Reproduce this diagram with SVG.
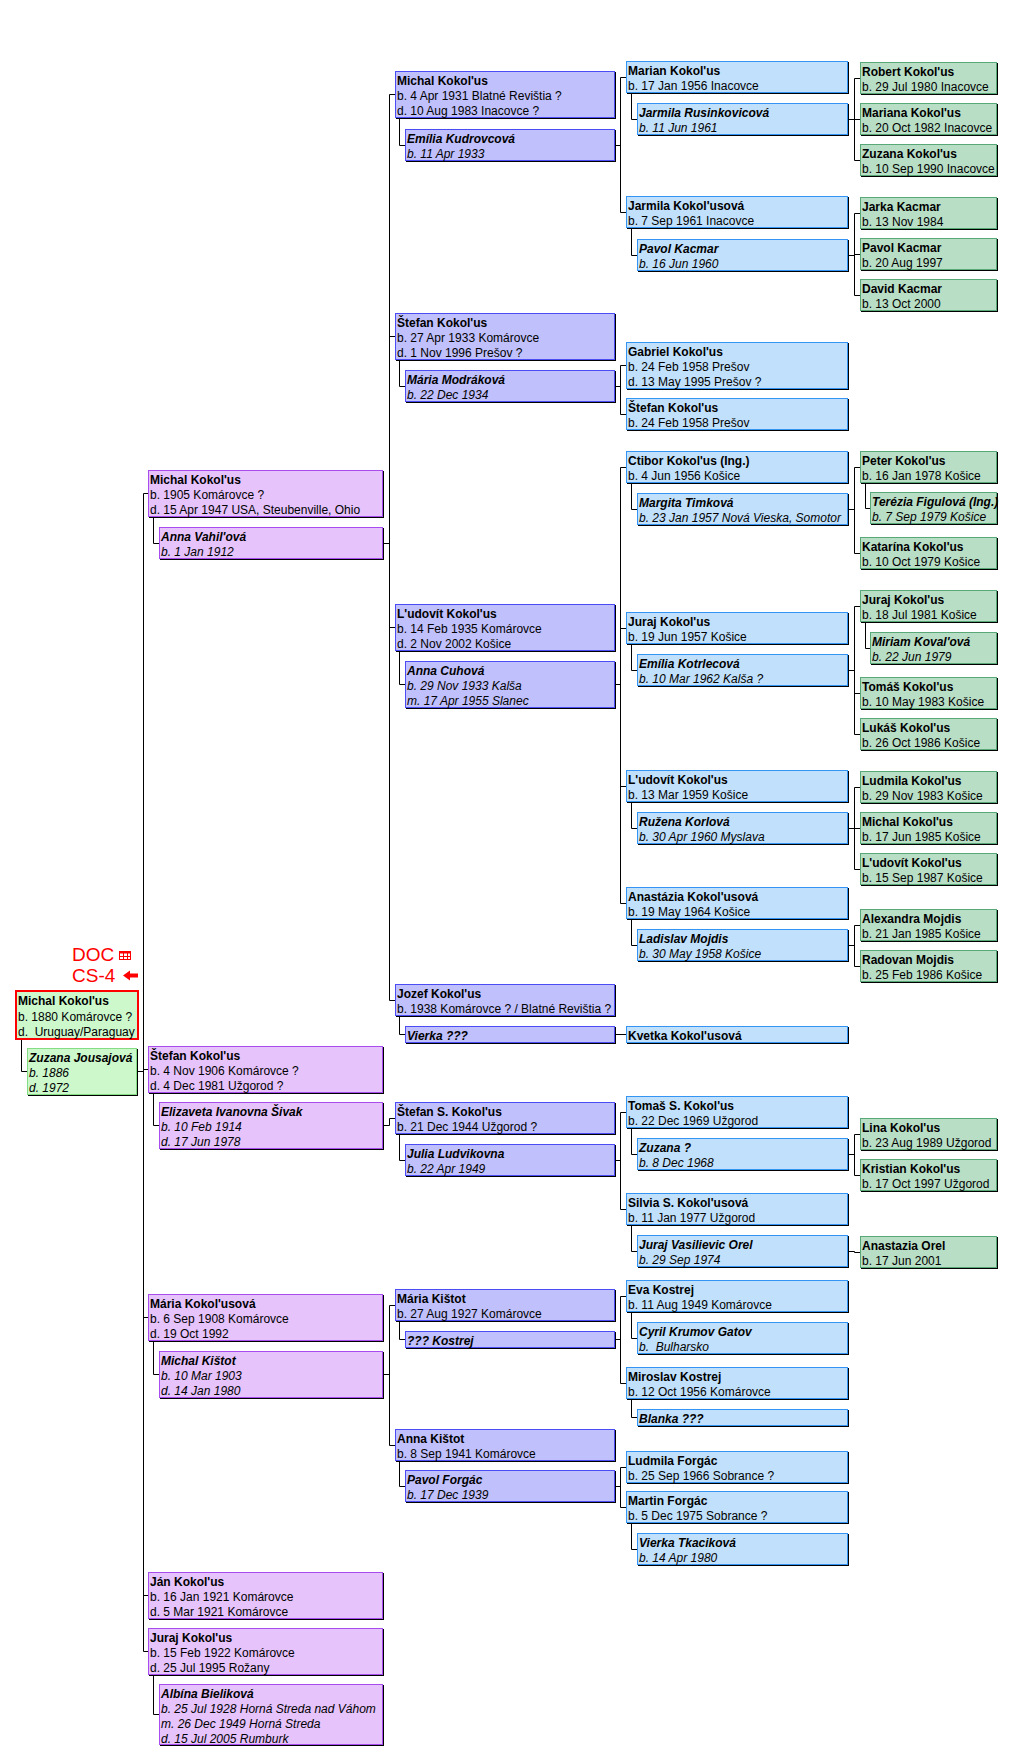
<svg xmlns="http://www.w3.org/2000/svg" width="1014" height="1748" viewBox="0 0 1014 1748">
<style>
.sh{fill:#000}
.k1{fill:#ccf8cc;stroke:#f00;stroke-width:2}
.k1s{fill:#ccf8cc;stroke:#84dc84}
.k2{fill:#e6c3fb;stroke:#a84cf0}
.k3{fill:#c0c0fc;stroke:#4c4cf4}
.k4{fill:#c0e0fc;stroke:#3494f4}
.k5{fill:#b8dec6;stroke:#58a878}
text{font-family:"Liberation Sans",Arial,sans-serif;font-size:12px;fill:#000}
.nm{font-weight:bold}
.sp{font-style:italic}
.cn{fill:none;stroke:#000;stroke-width:1}
.red{fill:#f00;font-size:19px}
</style>
<g id="connectors" class="cn">
<path d="M21.5 1040V1071.5H27M138 1071.5H143.5M143.5 493.5V1651.5M143.5 493.5H148M143.5 1069.5H148M143.5 1317.5H148M143.5 1595.5H148M143.5 1651.5H148"/>
<path d="M153.5 518V543.5H159M153.5 1094V1125.5H159M153.5 1342V1374.5H159M153.5 1676V1714.5H159"/>
<path d="M384 543.5H389.5M389.5 94.5V1000.5M389.5 94.5H395M389.5 336.5H395M389.5 627.5H395M389.5 1000.5H395M384 1125.5H389.5V1118.5H395M384 1374.5H389.5M389.5 1305.5V1445.5M389.5 1305.5H395M389.5 1445.5H395"/>
<path d="M399.5 119V145.5H405M399.5 361V386.5H405M399.5 652V684.5H405M399.5 1017V1034.5H405M399.5 1135V1160.5H405M399.5 1322V1339.5H405M399.5 1462V1486.5H405"/>
<path d="M616 145.5H620.5M620.5 77.5V212.5M620.5 77.5H626M620.5 212.5H626M616 386.5H620.5M620.5 365.5V414.5M620.5 365.5H626M620.5 414.5H626M616 684.5H620.5M620.5 467.5V903.5M620.5 467.5H626M620.5 628.5H626M620.5 786.5H626M620.5 903.5H626M616 1034.5H626M616 1160.5H620.5M620.5 1112.5V1209.5M620.5 1112.5H626M620.5 1209.5H626M616 1339.5H620.5M620.5 1296.5V1383.5M620.5 1296.5H626M620.5 1383.5H626M616 1486.5H620.5M620.5 1467.5V1507.5M620.5 1467.5H626M620.5 1507.5H626"/>
<path d="M631.5 94V119.5H637M631.5 229V255.5H637M631.5 484V509.5H637M631.5 645V670.5H637M631.5 803V828.5H637M631.5 920V945.5H637M631.5 1129V1154.5H637M631.5 1226V1251.5H637M631.5 1313V1338.5H637M631.5 1400V1417.5H637M631.5 1524V1549.5H637"/>
<path d="M849 119.5H854.5M854.5 78.5V160.5M854.5 78.5H860M854.5 119.5H860M854.5 160.5H860M849 255.5H854.5M854.5 213.5V295.5M854.5 213.5H860M854.5 254.5H860M854.5 295.5H860M849 509.5H854.5M854.5 467.5V553.5M854.5 467.5H860M854.5 553.5H860M849 670.5H854.5M854.5 606.5V734.5M854.5 606.5H860M854.5 693.5H860M854.5 734.5H860M849 828.5H854.5M854.5 787.5V869.5M854.5 787.5H860M854.5 828.5H860M854.5 869.5H860M849 945.5H854.5M854.5 925.5V966.5M854.5 925.5H860M854.5 966.5H860M849 1154.5H854.5M854.5 1134.5V1175.5M854.5 1134.5H860M854.5 1175.5H860M849 1251.5H854.5V1252.5H860"/>
<path d="M865.5 484V508.5H870M865.5 623V648.5H870"/>
</g>
<g id="badge">
<text class="red" x="72" y="961">DOC</text>
<text class="red" x="72" y="982">CS-4</text>
<rect x="119.5" y="951.5" width="11" height="8" fill="none" stroke="#f00"/>
<rect x="119.5" y="951.5" width="11" height="2" fill="#f00"/>
<path d="M120 956.5H130M123.5 952V959M127.5 952V959" stroke="#f00" fill="none"/>
<polygon points="123,975.5 130,970.5 130,973.5 138,973.5 138,977.5 130,977.5 130,980.5" fill="#f00"/>
</g>
<g id="n-root"><rect class="k1" x="16" y="991" width="122" height="48"/><text x="18" xml:space="preserve"><tspan class="nm" x="18" y="1005">Michal Kokol'us</tspan><tspan x="18" y="1021">b. 1880 Komárovce ?</tspan><tspan x="18" y="1036">d.  Uruguay/Paraguay</tspan></text></g>
<g id="n-zuzana-j"><rect class="sh" x="28" y="1049" width="110" height="47"/><rect class="k1s" x="27.5" y="1048.5" width="109" height="46"/><text class="sp"><tspan class="nm" x="29" y="1061.5">Zuzana Jousajová</tspan><tspan x="29" y="1077">b. 1886</tspan><tspan x="29" y="1092">d. 1972</tspan></text></g>

<g id="n-michal-2"><rect class="sh" x="149" y="471" width="235" height="47"/><rect class="k2" x="148.5" y="470.5" width="234" height="46"/><text><tspan class="nm" x="150" y="483.5">Michal Kokol'us</tspan><tspan x="150" y="499">b. 1905 Komárovce ?</tspan><tspan x="150" y="514">d. 15 Apr 1947 USA, Steubenville, Ohio</tspan></text></g>
<g id="n-anna-v"><rect class="sh" x="160" y="528" width="224" height="32"/><rect class="k2" x="159.5" y="527.5" width="223" height="31"/><text class="sp"><tspan class="nm" x="161" y="540.5">Anna Vahil'ová</tspan><tspan x="161" y="556">b. 1 Jan 1912</tspan></text></g>
<g id="n-stefan-2"><rect class="sh" x="149" y="1047" width="235" height="47"/><rect class="k2" x="148.5" y="1046.5" width="234" height="46"/><text><tspan class="nm" x="150" y="1059.5">Štefan Kokol'us</tspan><tspan x="150" y="1075">b. 4 Nov 1906 Komárovce ?</tspan><tspan x="150" y="1090">d. 4 Dec 1981 Užgorod ?</tspan></text></g>
<g id="n-elizaveta"><rect class="sh" x="160" y="1103" width="224" height="47"/><rect class="k2" x="159.5" y="1102.5" width="223" height="46"/><text class="sp"><tspan class="nm" x="161" y="1115.5">Elizaveta Ivanovna Šivak</tspan><tspan x="161" y="1131">b. 10 Feb 1914</tspan><tspan x="161" y="1146">d. 17 Jun 1978</tspan></text></g>
<g id="n-maria-k"><rect class="sh" x="149" y="1295" width="235" height="47"/><rect class="k2" x="148.5" y="1294.5" width="234" height="46"/><text><tspan class="nm" x="150" y="1307.5">Mária Kokol'usová</tspan><tspan x="150" y="1323">b. 6 Sep 1908 Komárovce</tspan><tspan x="150" y="1338">d. 19 Oct 1992</tspan></text></g>
<g id="n-michal-kistot"><rect class="sh" x="160" y="1352" width="224" height="47"/><rect class="k2" x="159.5" y="1351.5" width="223" height="46"/><text class="sp"><tspan class="nm" x="161" y="1364.5">Michal Kištot</tspan><tspan x="161" y="1380">b. 10 Mar 1903</tspan><tspan x="161" y="1395">d. 14 Jan 1980</tspan></text></g>
<g id="n-jan"><rect class="sh" x="149" y="1573" width="235" height="47"/><rect class="k2" x="148.5" y="1572.5" width="234" height="46"/><text><tspan class="nm" x="150" y="1585.5">Ján Kokol'us</tspan><tspan x="150" y="1601">b. 16 Jan 1921 Komárovce</tspan><tspan x="150" y="1616">d. 5 Mar 1921 Komárovce</tspan></text></g>
<g id="n-juraj-2"><rect class="sh" x="149" y="1629" width="235" height="47"/><rect class="k2" x="148.5" y="1628.5" width="234" height="46"/><text><tspan class="nm" x="150" y="1641.5">Juraj Kokol'us</tspan><tspan x="150" y="1657">b. 15 Feb 1922 Komárovce</tspan><tspan x="150" y="1672">d. 25 Jul 1995 Rožany</tspan></text></g>
<g id="n-albina"><rect class="sh" x="160" y="1685" width="224" height="61"/><rect class="k2" x="159.5" y="1684.5" width="223" height="60"/><text class="sp"><tspan class="nm" x="161" y="1697.5">Albína Bieliková</tspan><tspan x="161" y="1713">b. 25 Jul 1928 Horná Streda nad Váhom</tspan><tspan x="161" y="1728">m. 26 Dec 1949 Horná Streda</tspan><tspan x="161" y="1743">d. 15 Jul 2005 Rumburk</tspan></text></g>

<g id="n-michal-3"><rect class="sh" x="396" y="72" width="220" height="47"/><rect class="k3" x="395.5" y="71.5" width="219" height="46"/><text><tspan class="nm" x="397" y="84.5">Michal Kokol'us</tspan><tspan x="397" y="100">b. 4 Apr 1931 Blatné Revištia ?</tspan><tspan x="397" y="115">d. 10 Aug 1983 Inacovce ?</tspan></text></g>
<g id="n-emilia-ku"><rect class="sh" x="406" y="130" width="210" height="32"/><rect class="k3" x="405.5" y="129.5" width="209" height="31"/><text class="sp"><tspan class="nm" x="407" y="142.5">Emília Kudrovcová</tspan><tspan x="407" y="158">b. 11 Apr 1933</tspan></text></g>
<g id="n-stefan-3"><rect class="sh" x="396" y="314" width="220" height="47"/><rect class="k3" x="395.5" y="313.5" width="219" height="46"/><text><tspan class="nm" x="397" y="326.5">Štefan Kokol'us</tspan><tspan x="397" y="342">b. 27 Apr 1933 Komárovce</tspan><tspan x="397" y="357">d. 1 Nov 1996 Prešov ?</tspan></text></g>
<g id="n-maria-m"><rect class="sh" x="406" y="371" width="210" height="32"/><rect class="k3" x="405.5" y="370.5" width="209" height="31"/><text class="sp"><tspan class="nm" x="407" y="383.5">Mária Modráková</tspan><tspan x="407" y="399">b. 22 Dec 1934</tspan></text></g>
<g id="n-ludovit-3"><rect class="sh" x="396" y="605" width="220" height="47"/><rect class="k3" x="395.5" y="604.5" width="219" height="46"/><text><tspan class="nm" x="397" y="617.5">L'udovít Kokol'us</tspan><tspan x="397" y="633">b. 14 Feb 1935 Komárovce</tspan><tspan x="397" y="648">d. 2 Nov 2002 Košice</tspan></text></g>
<g id="n-anna-c"><rect class="sh" x="406" y="662" width="210" height="47"/><rect class="k3" x="405.5" y="661.5" width="209" height="46"/><text class="sp"><tspan class="nm" x="407" y="674.5">Anna Cuhová</tspan><tspan x="407" y="690">b. 29 Nov 1933 Kalša</tspan><tspan x="407" y="705">m. 17 Apr 1955 Slanec</tspan></text></g>
<g id="n-jozef"><rect class="sh" x="396" y="985" width="220" height="32"/><rect class="k3" x="395.5" y="984.5" width="219" height="31"/><text><tspan class="nm" x="397" y="997.5">Jozef Kokol'us</tspan><tspan x="397" y="1013">b. 1938 Komárovce ? / Blatné Revištia ?</tspan></text></g>
<g id="n-vierka"><rect class="sh" x="406" y="1027" width="210" height="17"/><rect class="k3" x="405.5" y="1026.5" width="209" height="16"/><text class="sp"><tspan class="nm" x="407" y="1039.5">Vierka ???</tspan></text></g>
<g id="n-stefan-s"><rect class="sh" x="396" y="1103" width="220" height="32"/><rect class="k3" x="395.5" y="1102.5" width="219" height="31"/><text><tspan class="nm" x="397" y="1115.5">Štefan S. Kokol'us</tspan><tspan x="397" y="1131">b. 21 Dec 1944 Užgorod ?</tspan></text></g>
<g id="n-julia"><rect class="sh" x="406" y="1145" width="210" height="32"/><rect class="k3" x="405.5" y="1144.5" width="209" height="31"/><text class="sp"><tspan class="nm" x="407" y="1157.5">Julia Ludvikovna</tspan><tspan x="407" y="1173">b. 22 Apr 1949</tspan></text></g>
<g id="n-maria-kistot"><rect class="sh" x="396" y="1290" width="220" height="32"/><rect class="k3" x="395.5" y="1289.5" width="219" height="31"/><text><tspan class="nm" x="397" y="1302.5">Mária Kištot</tspan><tspan x="397" y="1318">b. 27 Aug 1927 Komárovce</tspan></text></g>
<g id="n-kostrej"><rect class="sh" x="406" y="1332" width="210" height="17"/><rect class="k3" x="405.5" y="1331.5" width="209" height="16"/><text class="sp"><tspan class="nm" x="407" y="1344.5">??? Kostrej</tspan></text></g>
<g id="n-anna-kistot"><rect class="sh" x="396" y="1430" width="220" height="32"/><rect class="k3" x="395.5" y="1429.5" width="219" height="31"/><text><tspan class="nm" x="397" y="1442.5">Anna Kištot</tspan><tspan x="397" y="1458">b. 8 Sep 1941 Komárovce</tspan></text></g>
<g id="n-pavol-f"><rect class="sh" x="406" y="1471" width="210" height="32"/><rect class="k3" x="405.5" y="1470.5" width="209" height="31"/><text class="sp"><tspan class="nm" x="407" y="1483.5">Pavol Forgác</tspan><tspan x="407" y="1499">b. 17 Dec 1939</tspan></text></g>

<g id="n-marian"><rect class="sh" x="627" y="62" width="222" height="32"/><rect class="k4" x="626.5" y="61.5" width="221" height="31"/><text><tspan class="nm" x="628" y="74.5">Marian Kokol'us</tspan><tspan x="628" y="90">b. 17 Jan 1956 Inacovce</tspan></text></g>
<g id="n-jarmila-r"><rect class="sh" x="638" y="104" width="211" height="32"/><rect class="k4" x="637.5" y="103.5" width="210" height="31"/><text class="sp"><tspan class="nm" x="639" y="116.5">Jarmila Rusinkovicová</tspan><tspan x="639" y="132">b. 11 Jun 1961</tspan></text></g>
<g id="n-jarmila-k"><rect class="sh" x="627" y="197" width="222" height="32"/><rect class="k4" x="626.5" y="196.5" width="221" height="31"/><text><tspan class="nm" x="628" y="209.5">Jarmila Kokol'usová</tspan><tspan x="628" y="225">b. 7 Sep 1961 Inacovce</tspan></text></g>
<g id="n-pavol-k4"><rect class="sh" x="638" y="240" width="211" height="32"/><rect class="k4" x="637.5" y="239.5" width="210" height="31"/><text class="sp"><tspan class="nm" x="639" y="252.5">Pavol Kacmar</tspan><tspan x="639" y="268">b. 16 Jun 1960</tspan></text></g>
<g id="n-gabriel"><rect class="sh" x="627" y="343" width="222" height="47"/><rect class="k4" x="626.5" y="342.5" width="221" height="46"/><text><tspan class="nm" x="628" y="355.5">Gabriel Kokol'us</tspan><tspan x="628" y="371">b. 24 Feb 1958 Prešov</tspan><tspan x="628" y="386">d. 13 May 1995 Prešov ?</tspan></text></g>
<g id="n-stefan-4"><rect class="sh" x="627" y="399" width="222" height="32"/><rect class="k4" x="626.5" y="398.5" width="221" height="31"/><text><tspan class="nm" x="628" y="411.5">Štefan Kokol'us</tspan><tspan x="628" y="427">b. 24 Feb 1958 Prešov</tspan></text></g>
<g id="n-ctibor"><rect class="sh" x="627" y="452" width="222" height="32"/><rect class="k4" x="626.5" y="451.5" width="221" height="31"/><text><tspan class="nm" x="628" y="464.5">Ctibor Kokol'us (Ing.)</tspan><tspan x="628" y="480">b. 4 Jun 1956 Košice</tspan></text></g>
<g id="n-margita"><rect class="sh" x="638" y="494" width="211" height="32"/><rect class="k4" x="637.5" y="493.5" width="210" height="31"/><text class="sp"><tspan class="nm" x="639" y="506.5">Margita Timková</tspan><tspan x="639" y="522">b. 23 Jan 1957 Nová Vieska, Somotor</tspan></text></g>
<g id="n-juraj-4"><rect class="sh" x="627" y="613" width="222" height="32"/><rect class="k4" x="626.5" y="612.5" width="221" height="31"/><text><tspan class="nm" x="628" y="625.5">Juraj Kokol'us</tspan><tspan x="628" y="641">b. 19 Jun 1957 Košice</tspan></text></g>
<g id="n-emilia-ko"><rect class="sh" x="638" y="655" width="211" height="32"/><rect class="k4" x="637.5" y="654.5" width="210" height="31"/><text class="sp"><tspan class="nm" x="639" y="667.5">Emília Kotrlecová</tspan><tspan x="639" y="683">b. 10 Mar 1962 Kalša ?</tspan></text></g>
<g id="n-ludovit-4"><rect class="sh" x="627" y="771" width="222" height="32"/><rect class="k4" x="626.5" y="770.5" width="221" height="31"/><text><tspan class="nm" x="628" y="783.5">L'udovít Kokol'us</tspan><tspan x="628" y="799">b. 13 Mar 1959 Košice</tspan></text></g>
<g id="n-ruzena"><rect class="sh" x="638" y="813" width="211" height="32"/><rect class="k4" x="637.5" y="812.5" width="210" height="31"/><text class="sp"><tspan class="nm" x="639" y="825.5">Ružena Korlová</tspan><tspan x="639" y="841">b. 30 Apr 1960 Myslava</tspan></text></g>
<g id="n-anastazia"><rect class="sh" x="627" y="888" width="222" height="32"/><rect class="k4" x="626.5" y="887.5" width="221" height="31"/><text><tspan class="nm" x="628" y="900.5">Anastázia Kokol'usová</tspan><tspan x="628" y="916">b. 19 May 1964 Košice</tspan></text></g>
<g id="n-ladislav"><rect class="sh" x="638" y="930" width="211" height="32"/><rect class="k4" x="637.5" y="929.5" width="210" height="31"/><text class="sp"><tspan class="nm" x="639" y="942.5">Ladislav Mojdis</tspan><tspan x="639" y="958">b. 30 May 1958 Košice</tspan></text></g>
<g id="n-kvetka"><rect class="sh" x="627" y="1027" width="222" height="17"/><rect class="k4" x="626.5" y="1026.5" width="221" height="16"/><text><tspan class="nm" x="628" y="1039.5">Kvetka Kokol'usová</tspan></text></g>
<g id="n-tomas-s"><rect class="sh" x="627" y="1097" width="222" height="32"/><rect class="k4" x="626.5" y="1096.5" width="221" height="31"/><text><tspan class="nm" x="628" y="1109.5">Tomaš S. Kokol'us</tspan><tspan x="628" y="1125">b. 22 Dec 1969 Užgorod</tspan></text></g>
<g id="n-zuzana-q"><rect class="sh" x="638" y="1139" width="211" height="32"/><rect class="k4" x="637.5" y="1138.5" width="210" height="31"/><text class="sp"><tspan class="nm" x="639" y="1151.5">Zuzana ?</tspan><tspan x="639" y="1167">b. 8 Dec 1968</tspan></text></g>
<g id="n-silvia"><rect class="sh" x="627" y="1194" width="222" height="32"/><rect class="k4" x="626.5" y="1193.5" width="221" height="31"/><text><tspan class="nm" x="628" y="1206.5">Silvia S. Kokol'usová</tspan><tspan x="628" y="1222">b. 11 Jan 1977 Užgorod</tspan></text></g>
<g id="n-juraj-vo"><rect class="sh" x="638" y="1236" width="211" height="32"/><rect class="k4" x="637.5" y="1235.5" width="210" height="31"/><text class="sp"><tspan class="nm" x="639" y="1248.5">Juraj Vasilievic Orel</tspan><tspan x="639" y="1264">b. 29 Sep 1974</tspan></text></g>
<g id="n-eva"><rect class="sh" x="627" y="1281" width="222" height="32"/><rect class="k4" x="626.5" y="1280.5" width="221" height="31"/><text><tspan class="nm" x="628" y="1293.5">Eva Kostrej</tspan><tspan x="628" y="1309">b. 11 Aug 1949 Komárovce</tspan></text></g>
<g id="n-cyril"><rect class="sh" x="638" y="1323" width="211" height="32"/><rect class="k4" x="637.5" y="1322.5" width="210" height="31"/><text class="sp" xml:space="preserve"><tspan class="nm" x="639" y="1335.5">Cyril Krumov Gatov</tspan><tspan x="639" y="1351">b.  Bulharsko</tspan></text></g>
<g id="n-miroslav"><rect class="sh" x="627" y="1368" width="222" height="32"/><rect class="k4" x="626.5" y="1367.5" width="221" height="31"/><text><tspan class="nm" x="628" y="1380.5">Miroslav Kostrej</tspan><tspan x="628" y="1396">b. 12 Oct 1956 Komárovce</tspan></text></g>
<g id="n-blanka"><rect class="sh" x="638" y="1410" width="211" height="17"/><rect class="k4" x="637.5" y="1409.5" width="210" height="16"/><text class="sp"><tspan class="nm" x="639" y="1422.5">Blanka ???</tspan></text></g>
<g id="n-ludmila-f"><rect class="sh" x="627" y="1452" width="222" height="32"/><rect class="k4" x="626.5" y="1451.5" width="221" height="31"/><text><tspan class="nm" x="628" y="1464.5">Ludmila Forgác</tspan><tspan x="628" y="1480">b. 25 Sep 1966 Sobrance ?</tspan></text></g>
<g id="n-martin"><rect class="sh" x="627" y="1492" width="222" height="32"/><rect class="k4" x="626.5" y="1491.5" width="221" height="31"/><text><tspan class="nm" x="628" y="1504.5">Martin Forgác</tspan><tspan x="628" y="1520">b. 5 Dec 1975 Sobrance ?</tspan></text></g>
<g id="n-vierka-t"><rect class="sh" x="638" y="1534" width="211" height="32"/><rect class="k4" x="637.5" y="1533.5" width="210" height="31"/><text class="sp"><tspan class="nm" x="639" y="1546.5">Vierka Tkaciková</tspan><tspan x="639" y="1562">b. 14 Apr 1980</tspan></text></g>

<g id="n-robert"><rect class="sh" x="861" y="63" width="137" height="32"/><rect class="k5" x="860.5" y="62.5" width="136" height="31"/><text><tspan class="nm" x="862" y="75.5">Robert Kokol'us</tspan><tspan x="862" y="91">b. 29 Jul 1980 Inacovce</tspan></text></g>
<g id="n-mariana"><rect class="sh" x="861" y="104" width="137" height="32"/><rect class="k5" x="860.5" y="103.5" width="136" height="31"/><text><tspan class="nm" x="862" y="116.5">Mariana Kokol'us</tspan><tspan x="862" y="132">b. 20 Oct 1982 Inacovce</tspan></text></g>
<g id="n-zuzana-5"><rect class="sh" x="861" y="145" width="137" height="32"/><rect class="k5" x="860.5" y="144.5" width="136" height="31"/><text><tspan class="nm" x="862" y="157.5">Zuzana Kokol'us</tspan><tspan x="862" y="173">b. 10 Sep 1990 Inacovce</tspan></text></g>
<g id="n-jarka"><rect class="sh" x="861" y="198" width="137" height="32"/><rect class="k5" x="860.5" y="197.5" width="136" height="31"/><text><tspan class="nm" x="862" y="210.5">Jarka Kacmar</tspan><tspan x="862" y="226">b. 13 Nov 1984</tspan></text></g>
<g id="n-pavol-5"><rect class="sh" x="861" y="239" width="137" height="32"/><rect class="k5" x="860.5" y="238.5" width="136" height="31"/><text><tspan class="nm" x="862" y="251.5">Pavol Kacmar</tspan><tspan x="862" y="267">b. 20 Aug 1997</tspan></text></g>
<g id="n-david"><rect class="sh" x="861" y="280" width="137" height="32"/><rect class="k5" x="860.5" y="279.5" width="136" height="31"/><text><tspan class="nm" x="862" y="292.5">David Kacmar</tspan><tspan x="862" y="308">b. 13 Oct 2000</tspan></text></g>
<g id="n-peter"><rect class="sh" x="861" y="452" width="137" height="32"/><rect class="k5" x="860.5" y="451.5" width="136" height="31"/><text><tspan class="nm" x="862" y="464.5">Peter Kokol'us</tspan><tspan x="862" y="480">b. 16 Jan 1978 Košice</tspan></text></g>
<g id="n-terezia"><rect class="sh" x="871" y="493" width="127" height="32"/><rect class="k5" x="870.5" y="492.5" width="126" height="31"/><text class="sp"><tspan class="nm" x="872" y="505.5">Terézia Figulová (Ing.)</tspan><tspan x="872" y="521">b. 7 Sep 1979 Košice</tspan></text></g>
<g id="n-katarina"><rect class="sh" x="861" y="538" width="137" height="32"/><rect class="k5" x="860.5" y="537.5" width="136" height="31"/><text><tspan class="nm" x="862" y="550.5">Katarína Kokol'us</tspan><tspan x="862" y="566">b. 10 Oct 1979 Košice</tspan></text></g>
<g id="n-juraj-5"><rect class="sh" x="861" y="591" width="137" height="32"/><rect class="k5" x="860.5" y="590.5" width="136" height="31"/><text><tspan class="nm" x="862" y="603.5">Juraj Kokol'us</tspan><tspan x="862" y="619">b. 18 Jul 1981 Košice</tspan></text></g>
<g id="n-miriam"><rect class="sh" x="871" y="633" width="127" height="32"/><rect class="k5" x="870.5" y="632.5" width="126" height="31"/><text class="sp"><tspan class="nm" x="872" y="645.5">Miriam Koval'ová</tspan><tspan x="872" y="661">b. 22 Jun 1979</tspan></text></g>
<g id="n-tomas"><rect class="sh" x="861" y="678" width="137" height="32"/><rect class="k5" x="860.5" y="677.5" width="136" height="31"/><text><tspan class="nm" x="862" y="690.5">Tomáš Kokol'us</tspan><tspan x="862" y="706">b. 10 May 1983 Košice</tspan></text></g>
<g id="n-lukas"><rect class="sh" x="861" y="719" width="137" height="32"/><rect class="k5" x="860.5" y="718.5" width="136" height="31"/><text><tspan class="nm" x="862" y="731.5">Lukáš Kokol'us</tspan><tspan x="862" y="747">b. 26 Oct 1986 Košice</tspan></text></g>
<g id="n-ludmila-k"><rect class="sh" x="861" y="772" width="137" height="32"/><rect class="k5" x="860.5" y="771.5" width="136" height="31"/><text><tspan class="nm" x="862" y="784.5">Ludmila Kokol'us</tspan><tspan x="862" y="800">b. 29 Nov 1983 Košice</tspan></text></g>
<g id="n-michal-5"><rect class="sh" x="861" y="813" width="137" height="32"/><rect class="k5" x="860.5" y="812.5" width="136" height="31"/><text><tspan class="nm" x="862" y="825.5">Michal Kokol'us</tspan><tspan x="862" y="841">b. 17 Jun 1985 Košice</tspan></text></g>
<g id="n-ludovit-5"><rect class="sh" x="861" y="854" width="137" height="32"/><rect class="k5" x="860.5" y="853.5" width="136" height="31"/><text><tspan class="nm" x="862" y="866.5">L'udovít Kokol'us</tspan><tspan x="862" y="882">b. 15 Sep 1987 Košice</tspan></text></g>
<g id="n-alexandra"><rect class="sh" x="861" y="910" width="137" height="32"/><rect class="k5" x="860.5" y="909.5" width="136" height="31"/><text><tspan class="nm" x="862" y="922.5">Alexandra Mojdis</tspan><tspan x="862" y="938">b. 21 Jan 1985 Košice</tspan></text></g>
<g id="n-radovan"><rect class="sh" x="861" y="951" width="137" height="32"/><rect class="k5" x="860.5" y="950.5" width="136" height="31"/><text><tspan class="nm" x="862" y="963.5">Radovan Mojdis</tspan><tspan x="862" y="979">b. 25 Feb 1986 Košice</tspan></text></g>
<g id="n-lina"><rect class="sh" x="861" y="1119" width="137" height="32"/><rect class="k5" x="860.5" y="1118.5" width="136" height="31"/><text><tspan class="nm" x="862" y="1131.5">Lina Kokol'us</tspan><tspan x="862" y="1147">b. 23 Aug 1989 Užgorod</tspan></text></g>
<g id="n-kristian"><rect class="sh" x="861" y="1160" width="137" height="32"/><rect class="k5" x="860.5" y="1159.5" width="136" height="31"/><text><tspan class="nm" x="862" y="1172.5">Kristian Kokol'us</tspan><tspan x="862" y="1188">b. 17 Oct 1997 Užgorod</tspan></text></g>
<g id="n-anastazia-o"><rect class="sh" x="861" y="1237" width="137" height="32"/><rect class="k5" x="860.5" y="1236.5" width="136" height="31"/><text><tspan class="nm" x="862" y="1249.5">Anastazia Orel</tspan><tspan x="862" y="1265">b. 17 Jun 2001</tspan></text></g>
</svg>
